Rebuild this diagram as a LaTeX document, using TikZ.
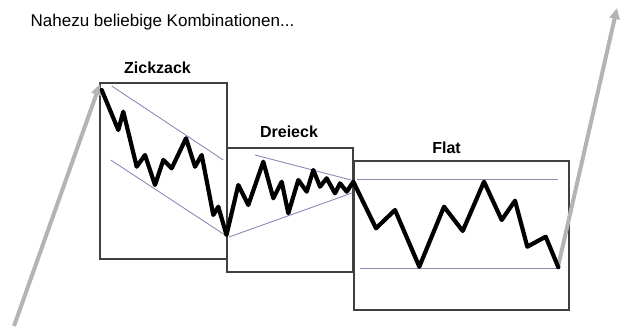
\documentclass[tikz,border=0pt]{standalone}
\usepackage{fontspec}
\setmainfont{Liberation Sans}
\usetikzlibrary{arrows.meta}
\definecolor{boxcol}{HTML}{404040}
\definecolor{chancol}{HTML}{8C8CB8}
\definecolor{arrcol}{HTML}{B4B4B4}
\tikzset{
  patbox/.style={draw=boxcol, line width=1.1pt, fill=white},
  chan/.style={draw=chancol, line width=0.9pt},
  wave/.style={draw=black, line width=4.2pt, line join=round, line cap=round},
  trend/.style={draw=arrcol, line width=4pt, -{Triangle[length=11pt,width=10pt]}},
  lbl/.style={font=\fontsize{16}{18}\selectfont\bfseries, anchor=base, inner sep=0pt},
  ttl/.style={font=\fontsize{17}{20}\selectfont, anchor=base, inner sep=0pt}
}
\begin{document}
\begin{tikzpicture}[x=1pt,y=-1pt]
\useasboundingbox[fill=white] (0,0) rectangle (620,328);
% boxes
\draw[patbox] (100,83) rectangle (227,259);
\draw[patbox] (227,148) rectangle (353,272);
\draw[patbox] (354,161) rectangle (569,310);
% labels
\node[ttl] (title) at (162.5,27) {Nahezu beliebige Kombinationen...};
\node[lbl] (zz) at (157.5,74) {Zickzack};
\node[lbl] (dr) at (289,137.5) {Dreieck};
\node[lbl] (fl) at (446.5,154) {Flat};
% trend arrows
\coordinate (a1s) at (14,326);
\coordinate (a1e) at (100,84);
\coordinate (a2s) at (558,267);
\coordinate (a2e) at (617,8);
\draw[trend] (a1s) -- (a1e);
\draw[trend] (a2s) -- (a2e);
% channel lines
\draw[chan] (111.7,86) -- (223.3,160);
\draw[chan] (110.7,160) -- (226.5,236);
\draw[chan] (255,155) -- (351,180);
\draw[chan] (229,237) -- (352,193);
\draw[chan] (357,179) -- (558,179);
\draw[chan] (360,268.5) -- (560,268.5);
% zigzag
\draw[wave] (101.7,90) -- (118.3,130) -- (123.3,111.7) -- (136.7,166.7) -- (145,155)
  -- (155,185) -- (163.3,160) -- (171.7,168.3) -- (186,138.3) -- (195,166.7)
  -- (201.7,155) -- (213.3,215) -- (218.3,206.7) -- (226.5,235)
  -- (238.3,185) -- (248.3,205) -- (263.3,161.7) -- (273.3,198.3) -- (281.7,181.7)
  -- (288.3,213.3) -- (298.3,180) -- (306.7,191.7) -- (313.3,170) -- (320,186.7)
  -- (326.7,178.3) -- (335,193.3) -- (340,183.3) -- (346.7,191.7) -- (353.3,181.7)
  -- (376,228.3) -- (395,210) -- (419.3,266.7) -- (444,206.7) -- (462.7,231)
  -- (484,181.7) -- (501.7,220) -- (515,200.7) -- (527.3,246.7) -- (545.7,236.7)
  -- (558.3,267.3);
\end{tikzpicture}
\end{document}
